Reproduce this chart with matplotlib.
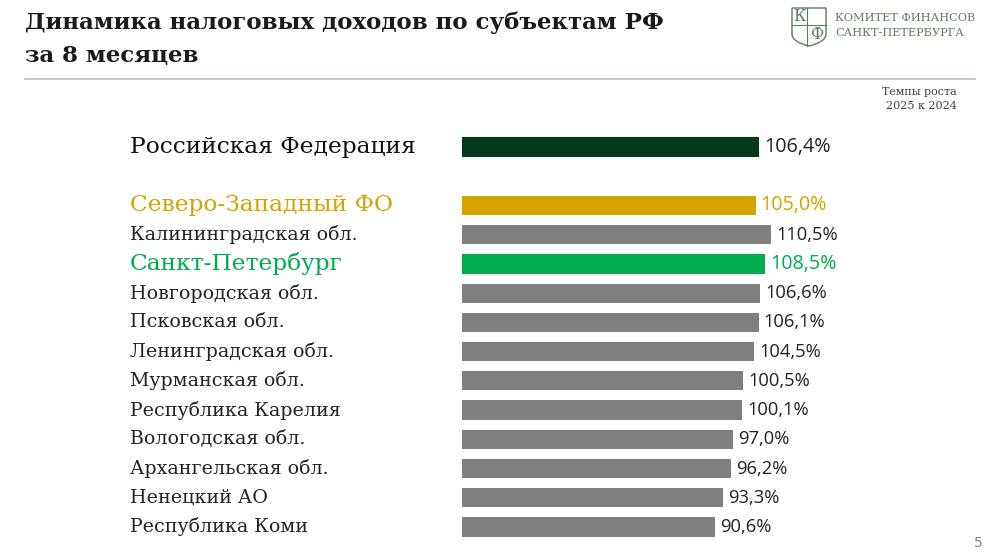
import numpy as np
import matplotlib.pyplot as plt
import matplotlib.transforms as mtransforms
from matplotlib.patches import PathPatch
from matplotlib.path import Path

# данные
regions = ['Российская Федерация', 'Северо-Западный ФО', 'Калининградская обл.',
           'Санкт-Петербург', 'Новгородская обл.', 'Псковская обл.',
           'Ленинградская обл.', 'Мурманская обл.', 'Республика Карелия',
           'Вологодская обл.', 'Архангельская обл.', 'Ненецкий АО', 'Республика Коми']
growth = [106.4, 105.0, 110.5, 108.5, 106.6, 106.1, 104.5, 100.5, 100.1, 97.0, 96.2, 93.3, 90.6]
positions = [0, 2, 3, 4, 5, 6, 7, 8, 9, 10, 11, 12, 13]

GRAY = '#7f7f7f'
DARK = '#03391c'
GOLD = '#d4a300'
GREEN = '#00ad4c'
bar_colors = [DARK, GOLD, GRAY, GREEN] + [GRAY] * 9
label_colors = ['#111111', GOLD, '#222222', GREEN] + ['#222222'] * 9
label_sizes = [16.8, 16.8, 13.7, 16.8] + [13.7] * 9
value_colors = ['#222222', GOLD, '#222222', GREEN] + ['#222222'] * 9
value_sizes = [14.2, 14.2, 13.2, 14.2] + [13.2] * 9

W, H = 990, 557
fig = plt.figure(figsize=(W / 100, H / 100), dpi=100)
fig.patch.set_facecolor('white')

# оси графика в пикселях
ax = fig.add_axes([462 / W, (H - 545) / H, 500 / W, 420 / H])
ax.barh(positions, growth, height=0.66, color=bar_colors)
ax.set_xlim(0, 500 / 2.796)
ax.set_ylim(-0.753 + 14.37, -0.753)
ax.axis('off')

for p, v, c, s in zip(positions, growth, value_colors, value_sizes):
    ax.text(v + 1.8, p, f'{v:.1f}%'.replace('.', ','), va='center', ha='left',
            fontsize=s, color=c, family=['Open Sans', 'DejaVu Sans'])

trans = mtransforms.blended_transform_factory(fig.transFigure, ax.transData)
for p, name, c, s in zip(positions, regions, label_colors, label_sizes):
    ax.text(130 / W, p, name, transform=trans, va='center', ha='left',
            fontsize=s, color=c, family='DejaVu Serif')

# заголовок
fig.text(25 / W, 1 - 23 / H, 'Динамика налоговых доходов по субъектам РФ',
         fontsize=16.5, fontweight='bold', family='DejaVu Serif', color='#1a1a1a',
         va='center', ha='left')
fig.text(25 / W, 1 - 56 / H, 'за 8 месяцев',
         fontsize=16.5, fontweight='bold', family='DejaVu Serif', color='#1a1a1a',
         va='center', ha='left')

# линия под заголовком
fig.add_artist(plt.Line2D([25 / W, 975 / W], [1 - 79 / H, 1 - 79 / H],
                          color='#b8c2b8', lw=1.2))

# логотип
LOGO = '#5f7d5f'
def px(x, y):
    return (x / W, 1 - y / H)
verts = [px(792, 8), px(826, 8), px(826, 34), px(826, 42), px(809, 46),
         px(792, 42), px(792, 34), px(792, 8)]
codes = [Path.MOVETO, Path.LINETO, Path.LINETO, Path.CURVE3, Path.CURVE3,
         Path.CURVE3, Path.CURVE3, Path.CLOSEPOLY]
fig.add_artist(PathPatch(Path(verts, codes), facecolor='none', edgecolor=LOGO,
                         lw=1.0, transform=fig.transFigure))
fig.add_artist(plt.Line2D([807 / W, 807 / W], [1 - 8 / H, 1 - 46 / H], color=LOGO, lw=0.8))
fig.add_artist(plt.Line2D([792 / W, 826 / W], [1 - 25 / H, 1 - 25 / H], color=LOGO, lw=0.8))
fig.text(799.5 / W, 1 - 16.5 / H, 'К', fontsize=11.5, family='DejaVu Serif', color=LOGO,
         ha='center', va='center')
fig.text(816.5 / W, 1 - 34.5 / H, 'Ф', fontsize=11.5, family='DejaVu Serif', color=LOGO,
         ha='center', va='center')
fig.text(835 / W, 1 - 18 / H, 'КОМИТЕТ ФИНАНСОВ', fontsize=8.2, family='DejaVu Serif',
         color=LOGO, ha='left', va='center')
fig.text(835 / W, 1 - 33 / H, 'САНКТ-ПЕТЕРБУРГА', fontsize=8.2, family='DejaVu Serif',
         color=LOGO, ha='left', va='center')

# подпись
fig.text(957 / W, 1 - 92 / H, 'Темпы роста', fontsize=8, family='DejaVu Serif',
         color='#404040', ha='right', va='center')
fig.text(957 / W, 1 - 106 / H, '2025 к 2024', fontsize=8, family='DejaVu Serif',
         color='#404040', ha='right', va='center')

fig.text(978 / W, 1 - 543 / H, '5', fontsize=10, color='#808080', ha='center', va='center',
         family='DejaVu Sans')

plt.savefig('out.png', dpi=100)
